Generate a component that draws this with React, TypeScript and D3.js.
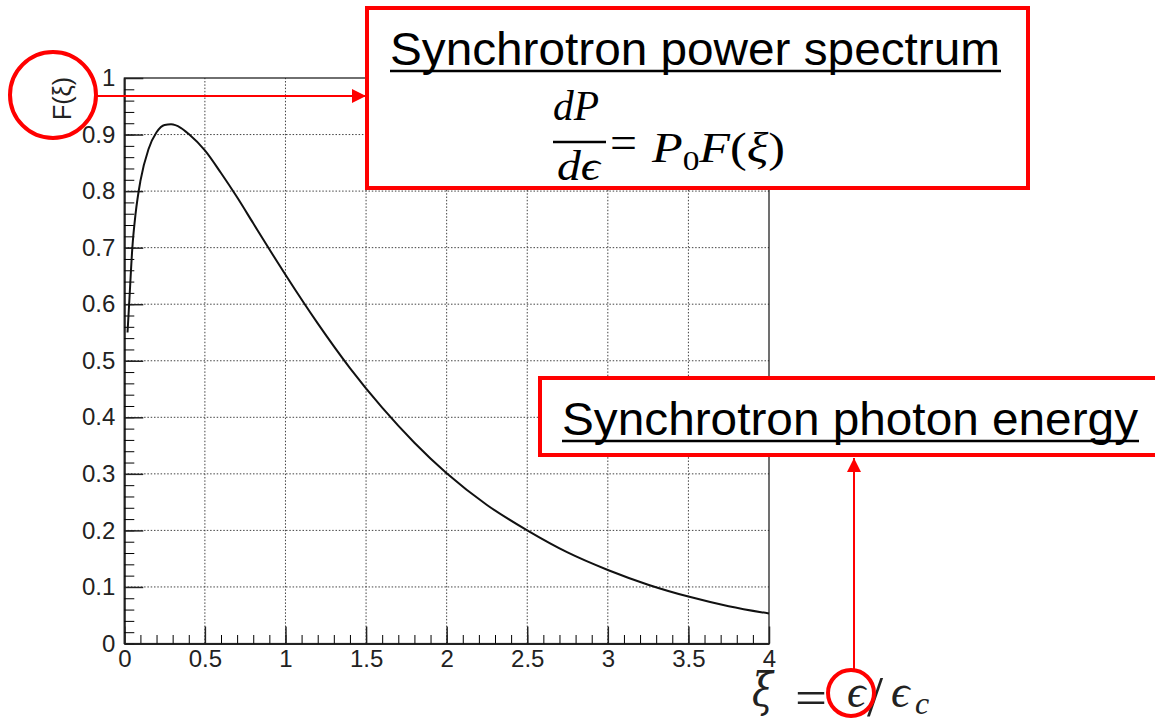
import { useEffect, useRef } from 'react';
import * as d3 from 'd3';

// curve: xi = eps / eps_c, F(xi)
const xiValues = [0.02, 0.03, 0.05, 0.07, 0.1, 0.15, 0.2, 0.25, 0.29, 0.35, 0.4, 0.5, 0.6, 0.7, 0.8, 0.9, 1.0, 1.2, 1.4, 1.6, 1.8, 2.0, 2.25, 2.5, 2.75, 3.0, 3.25, 3.5, 3.75, 4.0];
const fValues = [0.55, 0.6, 0.7, 0.76, 0.818, 0.874, 0.904, 0.917, 0.918, 0.912, 0.901, 0.872, 0.832, 0.789, 0.743, 0.697, 0.652, 0.566, 0.487, 0.417, 0.355, 0.301, 0.245, 0.2, 0.161, 0.13, 0.104, 0.083, 0.066, 0.053];

const xMajorTicks = [0, 0.5, 1, 1.5, 2, 2.5, 3, 3.5, 4];
const xTickLabels = ['0', '0.5', '1', '1.5', '2', '2.5', '3', '3.5', '4'];
const yMajorTicks = [0, 0.1, 0.2, 0.3, 0.4, 0.5, 0.6, 0.7, 0.8, 0.9, 1];
const yTickLabels = ['0', '0.1', '0.2', '0.3', '0.4', '0.5', '0.6', '0.7', '0.8', '0.9', '1'];

const yTitle = 'F(ξ)';
const powerTitle = 'Synchrotron power spectrum';
const energyTitle = 'Synchrotron photon energy';

const RED = '#ff0000';
const SANS = '"Liberation Sans", Arial, Helvetica, sans-serif';
const SERIF = '"Liberation Serif", "DejaVu Serif", serif';

const SynchrotronChart = ({ width = 1155, height = 718 }) => {
  const svgRef = useRef(null);

  useEffect(() => {
    const svg = d3.select(svgRef.current);
    svg.selectAll('*').remove();

    const x = d3.scaleLinear().domain([0, 4]).range([124.3, 769]);
    const y = d3.scaleLinear().domain([0, 1]).range([643.5, 78]);

    // defs: arrowhead
    svg.append('defs').append('marker')
      .attr('id', 'arrow')
      .attr('viewBox', '0 0 10 10')
      .attr('refX', 10).attr('refY', 5)
      .attr('markerWidth', 7).attr('markerHeight', 7)
      .attr('markerUnits', 'strokeWidth')
      .attr('orient', 'auto')
      .append('path')
      .attr('d', 'M0,0 L10,5 L0,10 Z')
      .attr('fill', RED);

    // dotted grid
    const grid = svg.append('g').attr('stroke', '#444').attr('stroke-width', 1).attr('stroke-dasharray', '1.5,1.8');
    xMajorTicks.slice(1, -1).forEach(v => {
      grid.append('line').attr('x1', x(v)).attr('x2', x(v)).attr('y1', y(0)).attr('y2', y(1));
    });
    yMajorTicks.slice(1, -1).forEach(v => {
      grid.append('line').attr('x1', x(0)).attr('x2', x(4)).attr('y1', y(v)).attr('y2', y(v));
    });

    // frame
    svg.append('rect')
      .attr('x', x(0)).attr('y', y(1))
      .attr('width', x(4) - x(0)).attr('height', y(0) - y(1))
      .attr('fill', 'none').attr('stroke', '#111').attr('stroke-width', 1.2);

    // x axis: inward ticks
    const xMinor = d3.range(0, 4.001, 0.1).map(v => +v.toFixed(2));
    svg.append('g')
      .attr('transform', `translate(0,${y(0)})`)
      .call(d3.axisBottom(x).tickValues(xMinor).tickSizeInner(-8.5).tickSizeOuter(0).tickFormat(() => ''))
      .call(g => g.select('.domain').attr('stroke', '#222').attr('stroke-width', 2));
    const xAxis = svg.append('g')
      .attr('transform', `translate(0,${y(0)})`)
      .call(d3.axisBottom(x).tickValues(xMajorTicks).tickSizeInner(-17).tickSizeOuter(0).tickPadding(6)
        .tickFormat((d, i) => xTickLabels[i]));
    xAxis.select('.domain').remove();
    xAxis.selectAll('line').attr('stroke', '#222').attr('stroke-width', 1.5);
    xAxis.selectAll('text').attr('font-family', SANS).attr('font-size', 24).attr('fill', '#222');

    // y axis
    const yMinor = d3.range(0, 1.0001, 0.02).map(v => +v.toFixed(3));
    svg.append('g')
      .attr('transform', `translate(${x(0)},0)`)
      .call(d3.axisLeft(y).tickValues(yMinor).tickSizeInner(-10).tickSizeOuter(0).tickFormat(() => ''))
      .call(g => g.select('.domain').attr('stroke', '#222').attr('stroke-width', 2));
    const yAxis = svg.append('g')
      .attr('transform', `translate(${x(0)},0)`)
      .call(d3.axisLeft(y).tickValues(yMajorTicks).tickSizeInner(-19).tickSizeOuter(0).tickPadding(9)
        .tickFormat((d, i) => yTickLabels[i]));
    yAxis.select('.domain').remove();
    yAxis.selectAll('line').attr('stroke', '#222').attr('stroke-width', 1.5);
    yAxis.selectAll('text').attr('font-family', SANS).attr('font-size', 24).attr('fill', '#222');

    // curve
    const pts = xiValues.map((v, i) => [v, fValues[i]]);
    const line = d3.line().x(d => x(d[0])).y(d => y(d[1])).curve(d3.curveMonotoneX);
    svg.append('path')
      .attr('d', line(pts))
      .attr('fill', 'none').attr('stroke', '#111').attr('stroke-width', 2);

    // y title
    svg.append('text')
      .attr('transform', 'translate(71,98.5) rotate(-90)')
      .attr('text-anchor', 'middle')
      .attr('font-family', SANS).attr('font-size', 25).attr('fill', '#222')
      .text(yTitle);

    // red circle around F(xi) and arrow to the box
    svg.append('circle').attr('cx', 53).attr('cy', 95).attr('r', 43)
      .attr('fill', 'none').attr('stroke', RED).attr('stroke-width', 4);
    svg.append('line').attr('x1', 96).attr('y1', 96).attr('x2', 366).attr('y2', 96)
      .attr('stroke', RED).attr('stroke-width', 2).attr('marker-end', 'url(#arrow)');

    // top box
    svg.append('rect').attr('x', 367).attr('y', 8).attr('width', 661).attr('height', 180)
      .attr('fill', '#fff').attr('stroke', RED).attr('stroke-width', 4);
    svg.append('text').attr('x', 390).attr('y', 65)
      .attr('font-family', SANS).attr('font-size', 47)
      .attr('textLength', 610).attr('lengthAdjust', 'spacingAndGlyphs')
      .text(powerTitle);
    svg.append('line').attr('x1', 390).attr('x2', 1001).attr('y1', 71).attr('y2', 71)
      .attr('stroke', '#000').attr('stroke-width', 2.5);

    // dP/dϵ = P0 F(ξ)
    const eq = svg.append('g').attr('font-family', SERIF).attr('fill', '#000');
    eq.append('text').attr('x', 553).attr('y', 120)
      .attr('font-size', 42).attr('font-style', 'italic')
      .attr('textLength', 46).attr('lengthAdjust', 'spacingAndGlyphs').text('dP');
    eq.append('line').attr('x1', 553).attr('x2', 606).attr('y1', 142).attr('y2', 142)
      .attr('stroke', '#000').attr('stroke-width', 2.5);
    eq.append('text').attr('x', 557).attr('y', 180)
      .attr('font-size', 42).attr('font-style', 'italic')
      .attr('textLength', 43).attr('lengthAdjust', 'spacingAndGlyphs').text('dϵ');
    eq.append('text').attr('x', 610).attr('y', 158).attr('font-size', 46)
      .attr('textLength', 27).attr('lengthAdjust', 'spacingAndGlyphs').text('=');
    const rhs = eq.append('text').attr('x', 652).attr('y', 162).attr('font-size', 42).attr('font-style', 'italic')
      .attr('textLength', 133).attr('lengthAdjust', 'spacingAndGlyphs');
    rhs.append('tspan').text('P');
    rhs.append('tspan').attr('dy', 8).attr('font-size', 28).attr('font-style', 'normal').text('0');
    rhs.append('tspan').attr('dy', -8).text('F');
    rhs.append('tspan').attr('font-style', 'normal').text('(');
    rhs.append('tspan').text('ξ');
    rhs.append('tspan').attr('font-style', 'normal').text(')');

    // second box
    svg.append('rect').attr('x', 540).attr('y', 378).attr('width', 640).attr('height', 77)
      .attr('fill', '#fff').attr('stroke', RED).attr('stroke-width', 4);
    svg.append('text').attr('x', 562).attr('y', 435)
      .attr('font-family', SANS).attr('font-size', 47)
      .attr('textLength', 576).attr('lengthAdjust', 'spacingAndGlyphs')
      .text(energyTitle);
    svg.append('line').attr('x1', 562).attr('x2', 1139).attr('y1', 441).attr('y2', 441)
      .attr('stroke', '#000').attr('stroke-width', 2.5);

    // ξ = ϵ/ϵc
    const xf = svg.append('g').attr('font-family', SERIF).attr('fill', '#222');
    xf.append('text').attr('x', 752).attr('y', 706).attr('font-size', 46).attr('font-style', 'italic')
      .attr('font-family', '"DejaVu Serif", serif')
      .attr('textLength', 21).attr('lengthAdjust', 'spacingAndGlyphs').text('ξ');
    xf.append('text').attr('x', 795).attr('y', 714).attr('font-size', 48)
      .attr('textLength', 32).attr('lengthAdjust', 'spacingAndGlyphs').text('=');
    xf.append('text').attr('x', 847).attr('y', 707).attr('font-size', 46).attr('font-style', 'italic').text('ϵ');
    xf.append('text').attr('x', 867).attr('y', 716).attr('font-size', 58).text('/');
    xf.append('text').attr('x', 891).attr('y', 707).attr('font-size', 46).attr('font-style', 'italic').text('ϵ');
    xf.append('text').attr('x', 915).attr('y', 714).attr('font-size', 32).attr('font-style', 'italic').text('c');

    // circle around ϵ and arrow up to the box
    svg.append('line').attr('x1', 854).attr('y1', 670).attr('x2', 854).attr('y2', 458)
      .attr('stroke', RED).attr('stroke-width', 2).attr('marker-end', 'url(#arrow)');
    svg.append('circle').attr('cx', 851).attr('cy', 693).attr('r', 23)
      .attr('fill', 'none').attr('stroke', RED).attr('stroke-width', 4);
  }, [width, height]);

  return (
    <svg ref={svgRef} width={width} height={height}
      style={{ position: 'absolute', left: 0, top: 0, background: '#fff' }} />
  );
};

export default function App() {
  return <SynchrotronChart />;
}
